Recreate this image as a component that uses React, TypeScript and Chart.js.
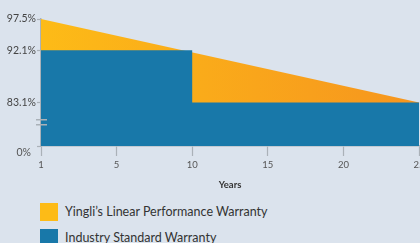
import React, { useEffect, useRef } from "react";
import { Chart, registerables } from "chart.js";

Chart.register(...registerables);

// ---- data ----
const xTickValues = [0, 5, 10, 15, 20, 25];
const xTickLabels = ["1", "5", "10", "15", "20", "25"];
const yTickValues = [75.6, 83.1, 92.1, 97.5];
const yTickLabels = ["0%", "83.1%", "92.1%", "97.5%"];

const yingliYears = [0, 25];
const yingliValues = [97.5, 83.1];

const industryYears = [0, 10, 10, 25];
const industryValues = [92.1, 92.1, 83.1, 83.1];

const seriesNames = ["Yingli\u2019s Linear Performance Warranty", "Industry Standard Warranty"];
const breakValue = 79.7;

const BG = "#dbe3ed";
const YELLOW_A = "#fdbb17";
const YELLOW_B = "#f6951e";
const BLUE = "#1878a9";
const AXIS = "#aab1b8";
const FONT = "Lato, 'Open Sans', sans-serif";

const extrasPlugin = {
  id: "extras",
  afterDatasetsDraw(chart: any) {
    const ys = chart.scales.y;
    const ctx = chart.ctx;
    ctx.save();
    // axis break symbol
    const yc = ys.getPixelForValue(breakValue);
    ctx.strokeStyle = AXIS;
    ctx.lineWidth = 1.6;
    ctx.beginPath();
    ctx.moveTo(ys.right - 5, yc - 2.5);
    ctx.lineTo(ys.right + 6, yc - 2.5);
    ctx.moveTo(ys.right - 5, yc + 2.5);
    ctx.lineTo(ys.right + 6, yc + 2.5);
    ctx.stroke();
    // bottom label
    ctx.fillStyle = "#555";
    ctx.font = "10.5px " + FONT;
    ctx.textAlign = "right";
    ctx.textBaseline = "middle";
    ctx.fillText(yTickLabels[0], ys.right - 10, ys.getPixelForValue(yTickValues[0]) + 6.5);
    ctx.restore();
  },
};

export default function App() {
  const ref = useRef<HTMLCanvasElement | null>(null);

  useEffect(() => {
    if (!ref.current) return;
    const chart = new Chart(ref.current, {
      type: "line",
      data: {
        datasets: [
          {
            label: seriesNames[0],
            data: yingliYears.map((x, i) => ({ x, y: yingliValues[i] })),
            borderWidth: 0,
            pointRadius: 0,
            fill: "start",
            order: 1,
            backgroundColor: (c: any) => {
              const ca = c.chart.chartArea;
              if (!ca) return YELLOW_A;
              const g = c.chart.ctx.createLinearGradient(ca.left, 0, ca.right, 0);
              g.addColorStop(0, YELLOW_A);
              g.addColorStop(1, YELLOW_B);
              return g;
            },
            borderColor: "rgba(0,0,0,0)",
          },
          {
            label: seriesNames[1],
            data: industryYears.map((x, i) => ({ x, y: industryValues[i] })),
            borderWidth: 0,
            pointRadius: 0,
            fill: "start",
            order: 0,
            backgroundColor: BLUE,
            borderColor: "rgba(0,0,0,0)",
          },
        ],
      },
      options: {
        animation: false,
        responsive: true,
        maintainAspectRatio: false,
        layout: { padding: { top: 19, left: 0, right: 1, bottom: 0 } },
        plugins: { legend: { display: false }, tooltip: { enabled: false } },
        scales: {
          x: {
            type: "linear",
            min: 0,
            max: 25,
            afterBuildTicks: (s: any) => {
              s.ticks = xTickValues.map((v) => ({ value: v }));
            },
            afterFit: (s: any) => {
              s.height = 50;
              s.paddingLeft = 0;
              s.paddingRight = 0;
            },
            ticks: {
              autoSkip: false,
              maxRotation: 0,
              padding: 3,
              color: "#555",
              font: { family: FONT, size: 9.5 },
              callback: (v: any) => {
                const i = xTickValues.indexOf(Number(v));
                return i >= 0 ? xTickLabels[i] : "";
              },
            },
            grid: { drawOnChartArea: false, drawTicks: true, tickLength: 10, tickColor: AXIS, tickWidth: 1.2 },
            border: { color: AXIS, width: 1.5 },
            title: {
              display: true,
              text: "Years",
              color: "#333",
              font: { family: FONT, size: 9.5, weight: "bold" },
              padding: { top: 0, bottom: 5 },
            },
          },
          y: {
            type: "linear",
            min: yTickValues[0],
            max: 97.5,
            afterBuildTicks: (s: any) => {
              s.ticks = yTickValues.map((v) => ({ value: v }));
            },
            afterFit: (s: any) => {
              s.width = 41;
              s.paddingTop = 0;
              s.paddingBottom = 0;
            },
            ticks: {
              autoSkip: false,
              padding: 1,
              color: "#444",
              font: { family: FONT, size: 10.5 },
              callback: (v: any) => {
                const i = yTickValues.indexOf(Number(v));
                if (i <= 0) return "";
                return yTickLabels[i];
              },
            },
            grid: { drawOnChartArea: false, drawTicks: true, tickLength: 4, tickColor: AXIS, tickWidth: 1.2 },
            border: { color: AXIS, width: 1.5 },
          },
        },
      } as any,
      plugins: [extrasPlugin],
    });
    return () => chart.destroy();
  }, []);

  const legendItem = (color: string, text: string, top: number) => (
    <div style={{ position: "absolute", left: 40, top, height: 18, display: "flex", alignItems: "center" }}>
      <div style={{ width: 18, height: 18, background: color }} />
      <span
        style={{
          marginLeft: 7,
          fontFamily: FONT,
          fontSize: 12.5,
          color: "#333",
          whiteSpace: "nowrap",
          lineHeight: "18px",
        }}
      >
        {text}
      </span>
    </div>
  );

  return (
    <div
      style={{
        position: "absolute",
        left: 0,
        top: 0,
        width: 420,
        height: 243,
        background: BG,
        overflow: "hidden",
      }}
    >
      <div style={{ position: "absolute", left: 0, top: 0, width: 420, height: 196 }}>
        <canvas ref={ref} />
      </div>
      {legendItem(YELLOW_A, seriesNames[0], 203)}
      {legendItem(BLUE, seriesNames[1], 229)}
    </div>
  );
}
